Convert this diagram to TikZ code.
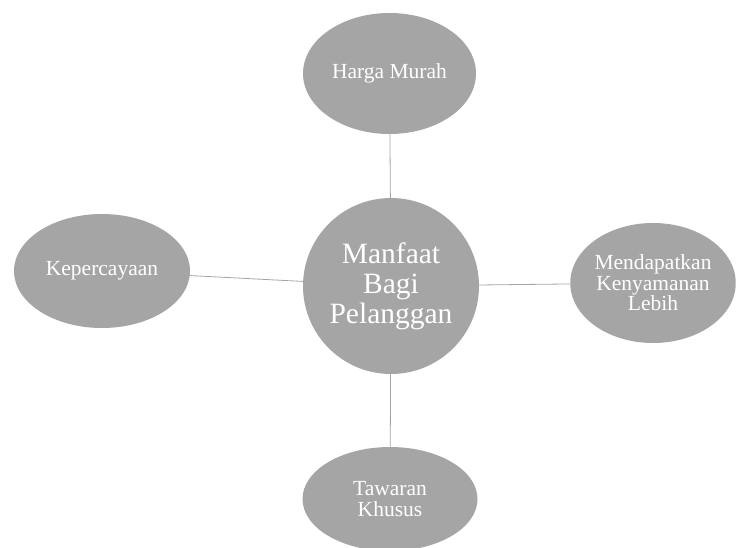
\documentclass[tikz,border=0pt]{standalone}
\usepackage{fontspec}
\setmainfont{Liberation Serif}
\usepackage{tikz}
\usetikzlibrary{shapes.geometric,positioning}
\definecolor{abu}{HTML}{A5A5A5}

\begin{document}
\begin{tikzpicture}[x=1pt,y=-1pt,
        pusat/.style = {circle, fill=abu, minimum size=176pt, inner sep=0pt, text=white, align=center, font=\fontsize{29.5}{30}\selectfont},
        cabang/.style = {ellipse, fill=abu, inner sep=0pt, text=white, align=center, font=\fontsize{21.5}{20.5}\selectfont},
        garis/.style = {draw=abu, line width=0.8pt},]
        \useasboundingbox (0,0) rectangle (736,548);
        \node[pusat] (manfaat) at (391,286) {Manfaat\\Bagi\\Pelanggan};
        \node[cabang, minimum width=173pt, minimum height=121pt] (harga) at (389.5,73.5) {Harga Murah};
        \node[cabang, minimum width=176pt, minimum height=114pt] (percaya) at (102,271) {Kepercayaan};
        \node[cabang, minimum width=160pt, minimum height=120pt] (nyaman) at (653,283) {Mendapatkan\\Kenyamanan\\Lebih};
        \node[cabang, minimum width=175pt, minimum height=104pt] (tawaran) at (390,499) {Tawaran\\Khusus};

        \draw[garis] (manfaat) -- (harga);
        \draw[garis] (manfaat) -- (percaya);
        \draw[garis] (manfaat) -- (nyaman);
        \draw[garis] (manfaat) -- (tawaran);
    \end{tikzpicture}
\end{document}
